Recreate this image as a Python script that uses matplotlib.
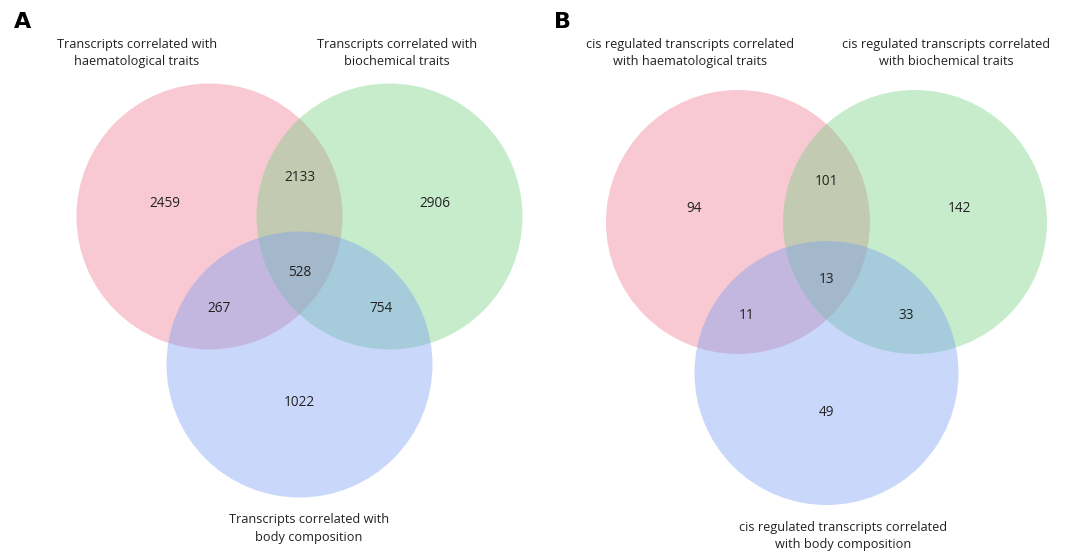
import matplotlib.pyplot as plt
from matplotlib.patches import Circle

# region counts: only H, only B, only C, H&B, H&C, B&C, all three
counts_a = [2459, 2906, 1022, 2133, 267, 754, 528]
counts_b = [94, 142, 49, 101, 11, 33, 13]

labels_a = ["Transcripts correlated with\nhaematological traits",
            "Transcripts correlated with\nbiochemical traits",
            "Transcripts correlated with\nbody composition"]
labels_b = ["cis regulated transcripts correlated\nwith haematological traits",
            "cis regulated transcripts correlated\nwith biochemical traits",
            "cis regulated transcripts correlated\nwith body composition"]

colors = ["#EF7890", "#72D080", "#789DF4"]


def venn(ax, x0, dx, ytop, dy, r, counts, labels, letter, lx):
    centers = [(x0, ytop), (x0 + dx, ytop), (x0 + dx / 2, ytop + dy)]
    for (cx, cy), col in zip(centers, colors):
        ax.add_patch(Circle((cx, cy), r, facecolor=col, edgecolor="none", alpha=0.4))

    mx = x0 + dx / 2
    # text positions relative to circle layout
    pos = [(x0 - 0.25 * dx, ytop - 0.09 * dy),
           (x0 + dx + 0.25 * dx, ytop - 0.09 * dy),
           (mx, ytop + 1.26 * dy),
           (mx, ytop - 0.265 * dy),
           (x0 + 0.05 * dx, ytop + 0.62 * dy),
           (x0 + 0.95 * dx, ytop + 0.62 * dy),
           (mx, ytop + 0.38 * dy)]
    for (px, py), v in zip(pos, counts):
        ax.text(px, py, str(v), ha="center", va="center", fontsize=9.8,
                family="Open Sans", color="#222222")

    lab_pos = [(lx[0], 53), (lx[1], 53), (lx[2], ytop + dy + r + 31)]
    for (px, py), t in zip(lab_pos, labels):
        ax.text(px, py, t, ha="center", va="center", fontsize=9.2,
                family="Open Sans", color="#222222", linespacing=1.45)
    ax.text(letter[1], 22, letter[0], ha="center", va="center", fontsize=16,
            fontweight="bold", family="DejaVu Sans")


fig = plt.figure(figsize=(10.83, 5.52), dpi=100)
ax = fig.add_axes([0, 0, 1, 1])
ax.set_xlim(0, 1083)
ax.set_ylim(552, 0)
ax.set_aspect("equal")
ax.axis("off")

venn(ax, 209.5, 180, 216.5, 148, 133, counts_a, labels_a, ("A", 23), (137, 397, 309))
venn(ax, 738, 177, 222, 151, 132, counts_b, labels_b, ("B", 562), (690, 946, 843))

fig.savefig("out.png", dpi=100)
